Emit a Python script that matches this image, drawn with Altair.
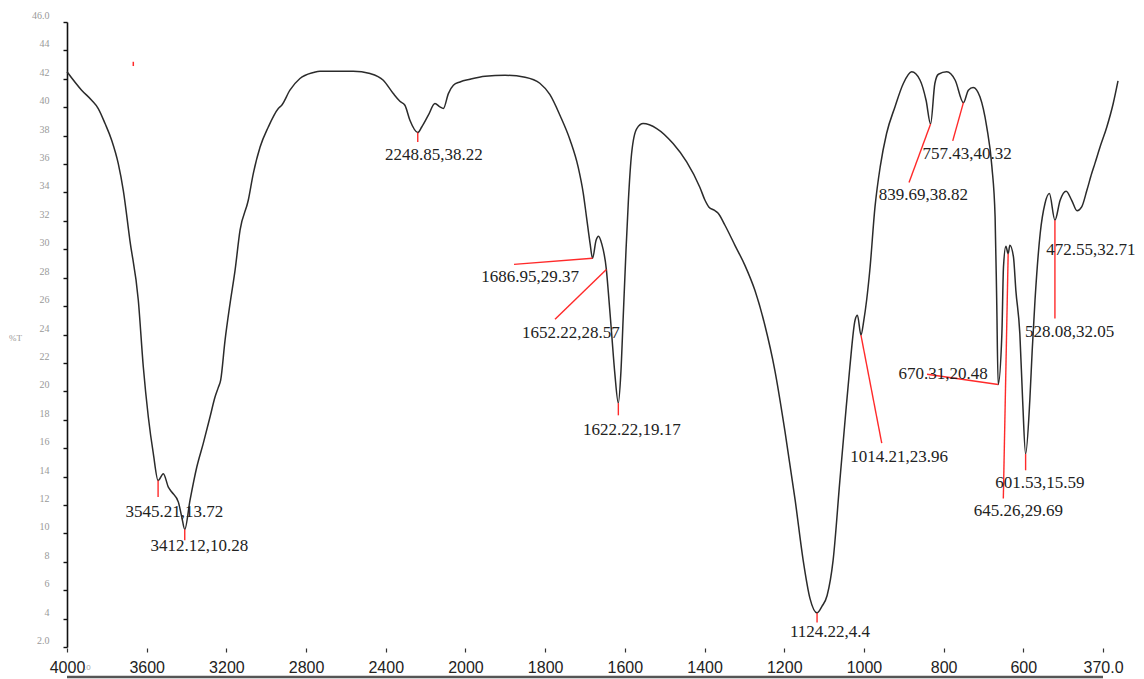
import altair as alt
import pandas as pd

# ---- spectrum trace: wavenumber (cm-1) and transmittance (%T) ----
wavenumber = [
    4000, 3927, 3877, 3844, 3810, 3777, 3744, 3719, 3686, 3644, 3619, 3594, 3569,
    3545.21, 3519, 3494, 3477, 3444, 3427, 3412.12, 3386, 3352, 3320, 3286, 3261,
    3245, 3233, 3211, 3186, 3161, 3136, 3095, 3070, 3036, 2995, 2945, 2928, 2887,
    2837, 2770, 2737, 2571, 2487, 2421, 2371, 2338, 2313, 2288, 2248.85, 2229, 2196,
    2163, 2138, 2121, 2096, 2071, 2038, 1994, 1956, 1906, 1856, 1819, 1794, 1768,
    1743, 1723, 1710, 1702, 1693, 1686.95, 1678, 1672, 1664, 1652.22, 1647, 1639,
    1631, 1622.22, 1616, 1610, 1603, 1597, 1589, 1576, 1560, 1526, 1485, 1451, 1418,
    1405, 1395, 1382, 1372, 1355, 1330, 1305, 1280, 1255, 1230, 1205, 1179, 1159,
    1142, 1124.22, 1112, 1099, 1084, 1067, 1054, 1042, 1029, 1023, 1014.21, 1007,
    1000, 992, 979, 966, 950, 929, 908, 887, 866, 851, 839.69, 829, 820, 799, 778,
    757.43, 745, 733, 716, 699, 686, 678, 674, 670.31, 661, 657, 651, 645.26, 641,
    632, 626, 616, 609, 601.53, 591, 585, 578, 565, 553, 542, 528.08, 515, 500, 486,
    472.55, 461, 448, 436, 428, 415, 398, 382, 370,
]
transmittance = [
    42.5, 41.2, 40.49, 39.91, 38.85, 37.68, 36.03, 34.15, 30.63, 26.41, 21.71, 18.19, 15.61,
    13.72, 14.2, 13.26, 12.91, 12.2, 11.15, 10.28, 12.32, 14.67, 16.32, 18.19, 19.6,
    20.26, 20.77, 23.59, 26.18, 28.52, 31.34, 33.45, 35.33, 37.2, 38.61, 39.91, 40.14, 41.2,
    42.02, 42.44, 42.54, 42.54, 42.37, 41.9, 40.96, 40.42, 40.14, 39.08, 38.22, 38.61, 39.44,
    40.26, 40.02, 39.91, 40.96, 41.55, 41.78, 41.97, 42.18, 42.25, 42.11, 41.69, 40.9, 39.4,
    37.68, 35.8, 33.92, 32.27, 30.4, 29.37, 30.63, 30.92, 30.4, 28.57, 26.88, 24.06,
    21.25, 19.17, 21.25, 25.23, 29.93, 33.45, 36.74, 38.5, 38.85, 38.5, 37.44, 36.15, 34.37,
    33.45, 32.96, 32.75, 32.54, 31.69, 30.28, 28.87, 27.11, 24.65, 21.48, 17.25, 12.32, 8.1,
    5.42, 4.4, 4.86, 5.63, 8.1, 13.73, 17.96, 21.71, 25.0, 25.35, 23.96, 25.0,
    26.41, 28.52, 32.98, 35.8, 38.15, 40.02, 41.67, 42.49, 41.9, 40.49, 38.82, 41.67, 42.32, 42.49, 41.9,
    40.32, 41.2, 41.39, 40.73, 38.61, 35.8, 32.27, 26.41, 20.48, 24.06, 28.75, 30.21, 29.69, 30.28,
    29.46, 27.11, 24.06, 19.37, 15.59, 19.37, 22.89, 26.41, 31.11, 33.22, 33.92, 32.05, 33.45, 34.08, 33.45,
    32.71, 32.98, 34.15, 35.33, 36.03, 37.2, 38.61, 40.26, 41.85,
]
assert len(wavenumber) == len(transmittance)

# ---- peak annotations ----
peak_wn = [3545.21, 3412.12, 2248.85, 1686.95, 1652.22, 1622.22, 1124.22, 1014.21,
           839.69, 757.43, 670.31, 645.26, 601.53, 528.08, 472.55]
peak_t = [13.72, 10.28, 38.22, 29.37, 28.57, 19.17, 4.4, 23.96,
          38.82, 40.32, 20.48, 29.69, 15.59, 32.05, 32.71]
peak_text = ["3545.21,13.72", "3412.12,10.28", "2248.85,38.22", "1686.95,29.37",
             "1652.22,28.57", "1622.22,19.17", "1124.22,4.4", "1014.21,23.96",
             "839.69,38.82", "757.43,40.32", "670.31,20.48", "645.26,29.69",
             "601.53,15.59", "528.08,32.05", "472.55,32.71"]
# where each label sits (centre), in axis units
label_wn = [3464, 3339.5, 2168, 1843.6, 1741.3, 1588.5, 1091.7, 918.8,
            857.9, 748.4, 808.5, 619.8, 566.1, 491.5, 437.8]
label_t = [11.5, 9.08, 36.62, 28.03, 24.08, 17.25, 3.03, 15.37,
           33.8, 36.69, 21.2, 11.57, 13.52, 24.18, 29.93]
# far end of the red leader from each peak (None = no leader)
leader_wn = [3545.21, 3412.12, 2248.85, 1883.7, 1780.9, 1622.22, 1124.22, 962.1,
             893.7, 784.2, 848.6, 657.4, 601.53, 528.08, None]
leader_t = [12.56, 9.51, 37.56, 28.94, 25.07, 18.31, 3.73, 16.36,
            34.7, 37.63, 21.2, 12.46, 14.44, 25.12, None]

# stray marker near the top left
stray_wn = [3669]
stray_t = [42.9]
stray_t2 = [43.2]

# bottom tick labels (evenly spaced along the axis)
x_tick_labels = ["4000", "3600", "3200", "2800", "2400", "2000", "1800", "1600",
                 "1400", "1200", "1000", "800", "600", "370.0"]
y_tick_values = list(range(2, 47, 2))

W, H = 1051, 625

spec_df = pd.DataFrame({"wn": wavenumber, "t": transmittance,
                        "i": range(len(wavenumber))})
lab_df = pd.DataFrame({"wn": label_wn, "t": label_t, "text": peak_text})
lead_df = pd.DataFrame({"wn": peak_wn, "t": peak_t, "wn2": leader_wn, "t2": leader_t}).dropna()
stray_df = pd.DataFrame({"wn": stray_wn, "t": stray_t, "t2": stray_t2})
tick_df = pd.DataFrame({"a": [0], "b": [len(x_tick_labels) - 1]})

# split wavenumber scale: 4000-2000 compressed 2:1 relative to 2000-370
def wn_scale():
    return alt.Scale(domain=[4000, 2000, 370], range=[0, 400.6, W])

def idx_scale():
    return alt.Scale(domain=[0, len(x_tick_labels) - 1], range=[0, 1036])

t_scale = alt.Scale(domain=[2, 46], nice=False, zero=False)

label_js = "[" + ",".join("'%s'" % s for s in x_tick_labels) + "]"

def y_axis():
    return alt.Axis(
        values=y_tick_values,
        labelExpr="datum.value == 46 ? '46.0' : datum.value == 2 ? '2.0' : '' + datum.value",
        grid=False, domainColor="#111", domainWidth=1.6, tickColor="#111", tickWidth=1.4,
        tickSize=4, labelFont="Liberation Serif", labelFontSize=10, labelColor="#999",
        labelPadding=14, labelOffset=-6.5, labelOverlap=False, labelBound=False,
        labelFlush=False, labelSeparation=0,
        title="%T", titleAngle=0, titleX=-52, titleY=315, titleAlign="center",
        titleBaseline="middle", titleFont="Liberation Serif", titleFontSize=9,
        titleFontWeight="normal", titleColor="#999",
    )

spectrum = alt.Chart(spec_df).mark_line(
    color="#2b2b2b", strokeWidth=1.5, interpolate="monotone"
).encode(
    x=alt.X("wn:Q", scale=wn_scale(), axis=None),
    y=alt.Y("t:Q", scale=t_scale, axis=y_axis()),
    order="i:Q",
)

leaders = alt.Chart(lead_df).mark_rule(color="#ff2a2a", strokeWidth=1.4).encode(
    x=alt.X("wn:Q", scale=wn_scale(), axis=None),
    x2="wn2:Q",
    y=alt.Y("t:Q", scale=t_scale, axis=y_axis()),
    y2="t2:Q",
)

stray = alt.Chart(stray_df).mark_rule(color="#ff2a2a", strokeWidth=1.5).encode(
    x=alt.X("wn:Q", scale=wn_scale(), axis=None),
    y=alt.Y("t:Q", scale=t_scale, axis=y_axis()),
    y2="t2:Q",
)

labels = alt.Chart(lab_df).mark_text(
    font="Liberation Serif", fontSize=17, color="#222", align="center", baseline="middle"
).encode(
    x=alt.X("wn:Q", scale=wn_scale(), axis=None),
    y=alt.Y("t:Q", scale=t_scale, axis=y_axis()),
    text="text:N",
)

x_axis = alt.Axis(
    values=list(range(len(x_tick_labels))), labelExpr=label_js + "[datum.value]",
    domain=False, grid=False, tickColor="#333", tickSize=4, tickWidth=1.2, offset=1,
    labelFont="Liberation Sans", labelFontSize=16, labelColor="#222", labelPadding=7,
    labelFlush=False, labelOverlap=False, title=None,
)

baseline = alt.Chart(tick_df).mark_rule(color="#555", strokeWidth=2.5).encode(
    x=alt.X("a:Q", scale=idx_scale(), axis=x_axis),
    x2="b:Q",
    y=alt.value(H + 30),
)

decimal = alt.Chart(tick_df).mark_text(
    text=".0", font="Liberation Sans", fontSize=8, color="#aaa", align="left", baseline="middle"
).encode(
    x=alt.X("a:Q", scale=idx_scale(), axis=None),
    y=alt.value(H + 21),
    xOffset=alt.value(17),
)

chart = alt.layer(spectrum, leaders, stray, labels, baseline, decimal).resolve_scale(
    x="independent"
).properties(
    width=W, height=H,
    autosize=alt.AutoSizeParams(type="none"),
    padding={"left": 67, "top": 22, "right": 26, "bottom": 32},
    background="white",
).configure_view(stroke=None)

chart.save("out.html", embed_options={"renderer": "svg", "actions": False})
